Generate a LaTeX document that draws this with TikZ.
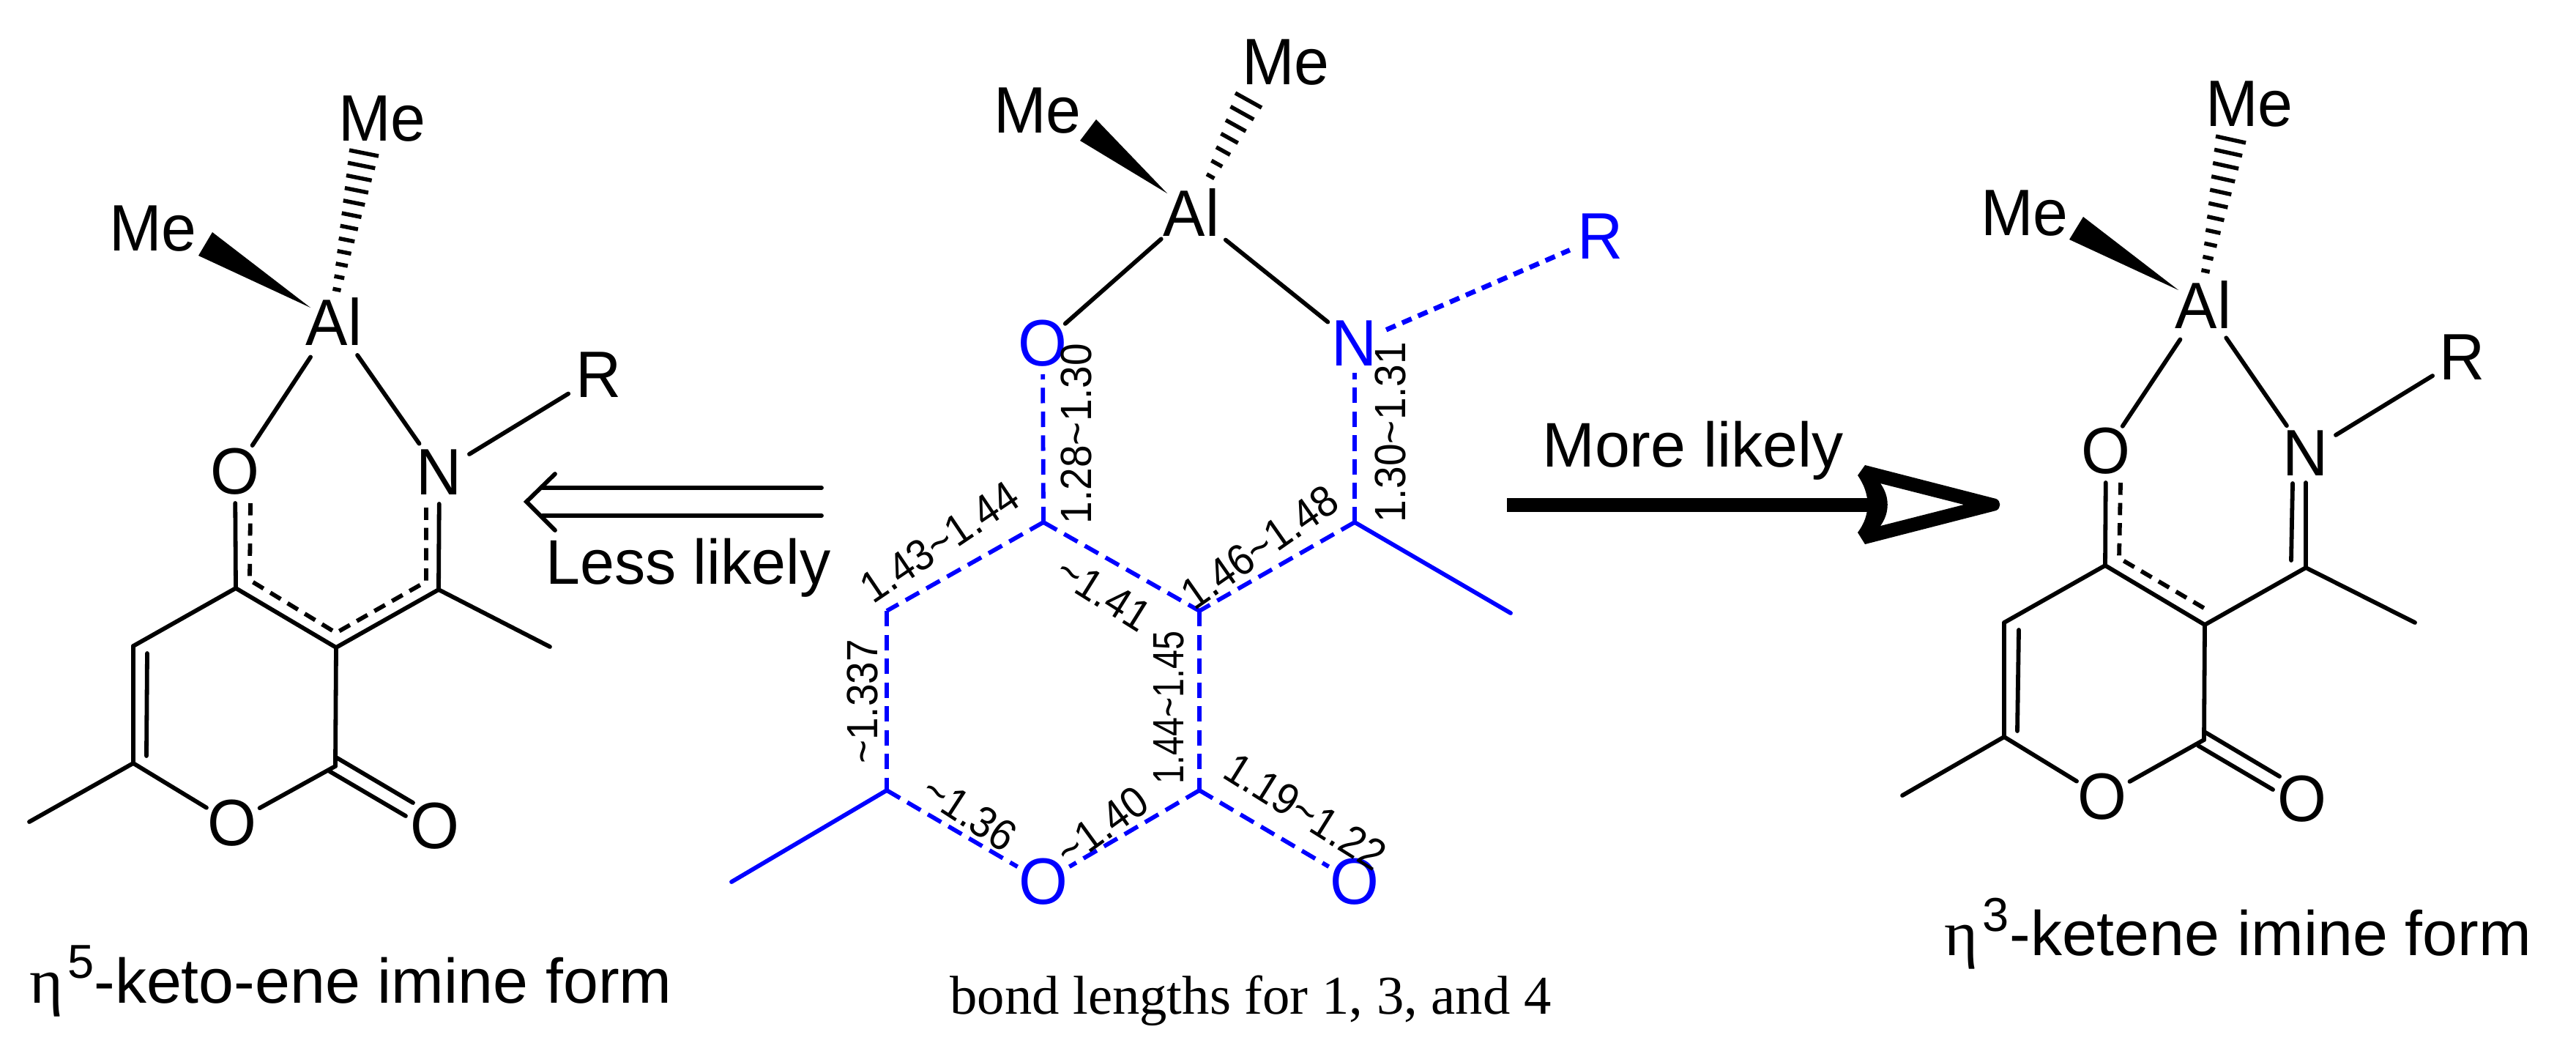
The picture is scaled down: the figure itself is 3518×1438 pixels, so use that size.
\documentclass[tikz,border=0pt]{standalone}
\usepackage{fontspec}
\setmainfont{Liberation Sans}
\newfontfamily\serifhk{Liberation Serif}
\usetikzlibrary{calc}
\newcommand\tld{\textasciitilde}
\newcommand\lb[2][.92]{\scalebox{#1}[1]{#2}}
\newcommand\tallhk[1]{\scalebox{.96}[1]{#1}}
\definecolor{hkblue}{RGB}{0,0,255}
\tikzset{
  bond/.style={line width=3.3pt,line join=miter,line cap=round},
  dbond/.style={bond,line cap=butt,dash pattern=on 9.5pt off 6.2pt},
  bbond/.style={bond,hkblue},
  bdash/.style={dbond,hkblue,dash pattern=on 12pt off 6.5pt},
  rdash/.style={dbond,hkblue,line width=3.8pt,dash pattern=on 8pt off 5.5pt},
  gap/.style 2 args={shorten <=#1*0.569pt,shorten >=#2*0.569pt},
  atom/.style={inner sep=0pt,font=\fontsize{51}{57}\selectfont},
  batom/.style={atom,text=hkblue},
  lbl/.style={inner sep=0pt,font=\fontsize{34}{38}\selectfont},
  txt/.style={inner sep=0pt,anchor=base west,font=\fontsize{49}{55}\selectfont},
  sup/.style={inner sep=0pt,anchor=base west,font=\fontsize{37}{42}\selectfont},
  eta/.style={inner sep=0pt,anchor=base west,font=\fontsize{50}{55}\serifhk\selectfont},
  hashline/.style={line width=3.1pt,line cap=butt},
  wedge/.style={fill=black,draw=none},
}
\begin{document}
\begin{tikzpicture}[x=0.02cm,y=-0.02cm]
\fill[white] (0,0) rectangle (3518,1438);
\useasboundingbox (0,0) rectangle (3518,1438);

% ---------- left molecule ----------
\node[atom] (LAl) at (456,439) {\tallhk{Al}};
\node[atom] (LMe1) at (522,162) {\tallhk{Me}};
\node[atom] (LMe2) at (209,312) {\tallhk{Me}};
\node[atom] (LO) at (321,644) {\tallhk{O}};
\node[atom] (LN) at (600,645) {\tallhk{N}};
\node[atom] (LR) at (818,512) {\tallhk{R}};
\node[atom] (LOr) at (317,1124) {\tallhk{O}};
\node[atom] (LOc) at (594,1128) {\tallhk{O}};
\coordinate (LC4) at (322,803);
\coordinate (LC3) at (459,884);
\coordinate (LCi) at (599,805);
\coordinate (LMi) at (751,883);
\coordinate (LC5) at (182,882);
\coordinate (LC6) at (182,1042);
\coordinate (LM6) at (40,1122);
\coordinate (LC2) at (458,1046);
\coordinate (LwA) at (290,317);
\coordinate (LwB) at (271,349);
\coordinate (LwT) at (424,420);
\coordinate (LhT) at (446,466);
\coordinate (LhA) at (477,205);
\coordinate (LhB) at (517,213);
\fill[wedge] (LwT) -- (LwA) -- (LwB) -- cycle;
\foreach \i in {0,...,11}{\pgfmathsetmacro\hk{.275+\i*.0659}
  \draw[hashline] ($(LhT)!\hk!(LhA)$) -- ($(LhT)!\hk!(LhB)$);}
\draw[bond,gap={58}{43}] (LAl.center) -- (LO.center);
\draw[bond,gap={56}{48}] (LAl.center) -- (LN.center);
\draw[bond,gap={48}{49}] (LN.center) -- (LR.center);
\draw[bond,gap={0}{43}] (LC4) -- (LO.center);
\draw[bond,gap={0}{43}] (LCi) -- (LN.center);
\draw[bond] (LC5) -- (LC4) -- (LC3) -- (LCi) -- (LMi);
\draw[bond] (LC3) -- (LC2);
\draw[bond] (LC5) -- (LC6) -- (LM6);
\draw[bond,gap={0}{41}] (LC6) -- (LOr.center);
\draw[bond,gap={0}{43}] (LC2) -- (LOr.center);
\coordinate (LiA) at (201,892); \coordinate (LiB) at (200,1032);
\draw[bond] (LiA) -- (LiB);
\coordinate (LdA) at (450,1053); \coordinate (LdB) at (554,1114);
\coordinate (LdC) at (459,1034); \coordinate (LdD) at (564,1096);
\draw[bond] (LdA) -- (LdB);
\draw[bond] (LdC) -- (LdD);
\coordinate (Ld1) at (342,687); \coordinate (Ld2) at (341,792);
\coordinate (Ld3) at (459,864); \coordinate (Ld4) at (582,794); \coordinate (Ld5) at (582,688);
\draw[dbond] (Ld1) -- (Ld2) -- (Ld3) -- (Ld4) -- (Ld5);

% ---------- centre molecule ----------
\node[atom] (MAl) at (1627,290) {\tallhk{Al}};
\node[atom] (MMe1) at (1756,85) {\tallhk{Me}};
\node[atom] (MMe2) at (1417,151) {\tallhk{Me}};
\node[batom] (MO) at (1424,469) {\tallhk{O}};
\node[batom] (MN) at (1850,469) {\tallhk{N}};
\node[batom] (MR) at (2186,323) {\tallhk{R}};
\node[batom] (MOr) at (1425,1204) {\tallhk{O}};
\node[batom] (MOc) at (1850,1204) {\tallhk{O}};
\coordinate (MC4) at (1425,713);
\coordinate (MC3) at (1638,834);
\coordinate (MCi) at (1850,713);
\coordinate (MMi) at (2063,837);
\coordinate (MC5) at (1211,834);
\coordinate (MC6) at (1211,1079);
\coordinate (MM6) at (999,1204);
\coordinate (MC2) at (1638,1079);
\coordinate (MwA) at (1497,163);
\coordinate (MwB) at (1475,192);
\coordinate (MwT) at (1594,264);
\coordinate (MhT) at (1632,283);
\coordinate (MhA) at (1687,127);
\coordinate (MhB) at (1723,147);
\fill[wedge] (MwT) -- (MwA) -- (MwB) -- cycle;
\foreach \i in {0,...,6}{\pgfmathsetmacro\hk{.29+\i*.1183}
  \draw[hashline] ($(MhT)!\hk!(MhA)$) -- ($(MhT)!\hk!(MhB)$);}
\draw[bond,gap={55}{41}] (MAl.center) -- (MO.center);
\draw[bond,gap={60}{47}] (MAl.center) -- (MN.center);
\draw[rdash,gap={47}{46}] (MN.center) -- (MR.center);
\draw[bdash,gap={0}{42}] (MC4) -- (MO.center);
\draw[bdash,gap={0}{40}] (MCi) -- (MN.center);
\draw[bdash] (MC4) -- (MC5);
\draw[bdash] (MC4) -- (MC3);
\draw[bdash] (MCi) -- (MC3);
\draw[bdash] (MC3) -- (MC2);
\draw[bdash] (MC5) -- (MC6);
\draw[bdash,gap={0}{41}] (MC6) -- (MOr.center);
\draw[bdash,gap={0}{41}] (MC2) -- (MOr.center);
\draw[bdash,gap={0}{41}] (MC2) -- (MOc.center);
\draw[bbond] (MCi) -- (MMi);
\draw[bbond] (MC6) -- (MM6);

\node[lbl,rotate=90] (b1) at (1470,592) {\lb{1.28\tld1.30}};
\node[lbl,rotate=90] (b2) at (1899,590) {\lb{1.30\tld1.31}};
\node[lbl,rotate=34] (b3) at (1283,740) {\lb{1.43\tld1.44}};
\node[lbl,rotate=35] (b4) at (1720,747) {\lb{1.46\tld1.48}};
\node[lbl,rotate=-32] (b5) at (1507,810) {\lb{\tld1.41}};
\node[lbl,rotate=90] (b6) at (1178,958) {\lb{\tld1.337}};
\node[lbl,rotate=90] (b7) at (1596,966) {\lb[.78]{1.44\tld1.45}};
\node[lbl,rotate=36] (b8) at (1505,1128) {\lb{\tld1.40}};
\node[lbl,rotate=-33] (b9) at (1324,1110) {\lb{\tld1.36}};
\node[lbl,rotate=-32] (b10) at (1783,1108) {\lb{1.19\tld1.22}};

% ---------- right molecule ----------
\node[atom] (RAl) at (3009,416) {\tallhk{Al}};
\node[atom] (RMe1) at (3072,142) {\tallhk{Me}};
\node[atom] (RMe2) at (2765,291) {\tallhk{Me}};
\node[atom] (RO) at (2876,616) {\tallhk{O}};
\node[atom] (RN) at (3149,619) {\tallhk{N}};
\node[atom] (RR) at (3363,488) {\tallhk{R}};
\node[atom] (ROr) at (2871,1088) {\tallhk{O}};
\node[atom] (ROc) at (3144,1091) {\tallhk{O}};
\coordinate (RC4) at (2875,772);
\coordinate (RC3) at (3011,853);
\coordinate (RCi) at (3149,775);
\coordinate (RMi) at (3298,850);
\coordinate (RC5) at (2737,850);
\coordinate (RC6) at (2737,1006);
\coordinate (RM6) at (2598,1086);
\coordinate (RC2) at (3010,1010);
\coordinate (RwA) at (2845,296);
\coordinate (RwB) at (2826,327);
\coordinate (RwT) at (2975,396);
\coordinate (RhT) at (2999,438);
\coordinate (RhA) at (3026,186);
\coordinate (RhB) at (3067,195);
\fill[wedge] (RwT) -- (RwA) -- (RwB) -- cycle;
\foreach \i in {0,...,10}{\pgfmathsetmacro\hk{.275+\i*.0725}
  \draw[hashline] ($(RhT)!\hk!(RhA)$) -- ($(RhT)!\hk!(RhB)$);}
\draw[bond,gap={57}{41}] (RAl.center) -- (RO.center);
\draw[bond,gap={55}{46}] (RAl.center) -- (RN.center);
\draw[bond,gap={48}{48}] (RN.center) -- (RR.center);
\draw[bond,gap={0}{43}] (RC4) -- (RO.center);
\draw[bond,gap={0}{40}] (RCi) -- (RN.center);
\draw[bond] (RC5) -- (RC4) -- (RC3) -- (RCi) -- (RMi);
\draw[bond] (RC3) -- (RC2);
\draw[bond] (RC5) -- (RC6) -- (RM6);
\draw[bond,gap={0}{41}] (RC6) -- (ROr.center);
\draw[bond,gap={0}{43}] (RC2) -- (ROr.center);
\coordinate (RiA) at (2757,860); \coordinate (RiB) at (2755,998);
\draw[bond] (RiA) -- (RiB);
\coordinate (RdA) at (3002,1018); \coordinate (RdB) at (3104,1078);
\coordinate (RdC) at (3012,1000); \coordinate (RdD) at (3113,1060);
\draw[bond] (RdA) -- (RdB);
\draw[bond] (RdC) -- (RdD);
\coordinate (Rn1) at (3129,765); \coordinate (Rn2) at (3131,660);
\draw[bond] (Rn1) -- (Rn2);
\coordinate (Rd1) at (2896,659); \coordinate (Rd2) at (2894,762); \coordinate (Rd3) at (3013,832);
\draw[dbond] (Rd1) -- (Rd2) -- (Rd3);

% ---------- arrows ----------
\coordinate (A1) at (1122,666); \coordinate (A2) at (741,666);
\coordinate (A3) at (1122,704); \coordinate (A4) at (741,704);
\coordinate (A5) at (758,647); \coordinate (A6) at (719,685); \coordinate (A7) at (758,724);
\draw[bond] (A1) -- (A2);
\draw[bond] (A3) -- (A4);
\draw[bond] (A5) -- (A6) -- (A7);
\node[txt] (less) at (745,797) {\scalebox{.98}[1]{Less likely}};

\node[txt] (more) at (2106,637) {More likely};
\coordinate (S1) at (2058,689); \coordinate (S2) at (2570,689);
\draw[line width=10.8pt] (S1) -- (S2);
\fill[black,even odd rule]
  (2547,635) -- (2726,681) .. controls (2733,684) and (2733,694) .. (2726,697) -- (2547,743) -- (2537,727)
  .. controls (2555,703) and (2555,675) .. (2537,649) -- cycle
  (2568,660) -- (2682,689) -- (2568,718) .. controls (2581,700) and (2581,678) .. (2568,660) -- cycle;

% ---------- captions ----------
\node[eta] (eta5) at (40,1369) {η};
\node[sup] (five) at (92,1335) {5};
\node[txt] (cap5) at (128,1369) {-keto-ene imine form};
\node[eta] (eta3) at (2655,1304) {η};
\node[sup] (three) at (2707,1271) {3};
\node[txt] (cap3) at (2744,1304) {-ketene imine form};
\node[inner sep=0pt,anchor=base west,font=\fontsize{42.5}{48}\serifhk\selectfont] (capm) at (1297,1384) {bond lengths for 1, 3, and 4};
\end{tikzpicture}
\end{document}
